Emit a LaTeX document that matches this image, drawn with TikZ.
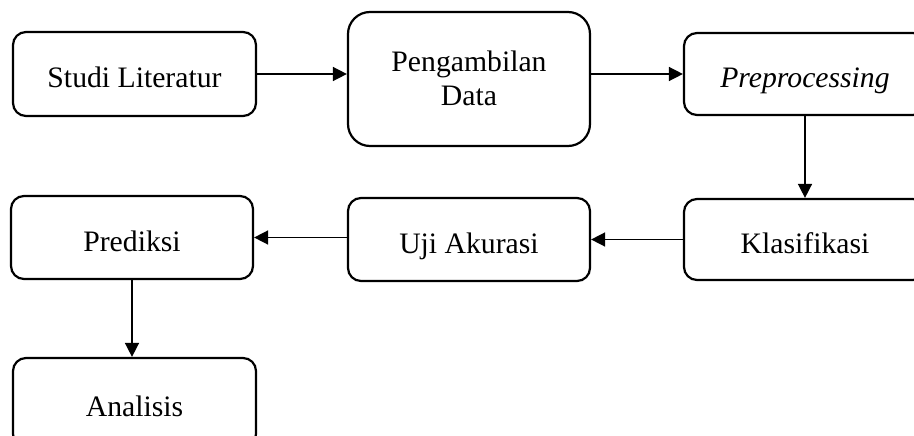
\documentclass[tikz,border=0pt]{standalone}
\usepackage{fontspec}
\setmainfont{Liberation Serif}
\usetikzlibrary{arrows.meta}
\begin{document}
\begin{tikzpicture}[x=1pt,y=-1pt,
  box/.style={draw=black, line width=2.2pt, rounded corners=13pt, minimum width=242pt,
    minimum height=83pt, inner sep=0pt, text height=27pt, text depth=0pt,
    font=\fontsize{29.7}{34}\selectfont},
  arr/.style={line width=1.5pt, -{Triangle[length=14pt,width=14pt]}}]
\useasboundingbox (0,0) rectangle (914,436);
\clip (0,0) rectangle (914,436);
\node[box, minimum width=243pt, minimum height=84pt] (b1) at (134.5,74) {Studi Literatur};
\node[box, minimum height=134pt, rounded corners=22pt, align=center, text height=, text depth=] (b2) at (469,79) {\raisebox{2.5pt}{Pengambilan}\\\raisebox{2.5pt}{Data}};
\node[box, minimum height=82pt] (b3) at (805,74) {\itshape Preprocessing};
\node[box, minimum height=81pt] (b4) at (805,239.5) {Klasifikasi};
\node[box] (b5) at (469,239.5) {Uji Akurasi};
\node[box] (b6) at (132,237.5) {Prediksi};
\node[box, minimum width=243pt, minimum height=89pt] (b7) at (134.5,402.5) {Analisis};
\draw[arr] (b1.east) -- (b1.east -| b2.west);
\draw[arr] (b2.east |- b3.west) -- (b3.west);
\draw[arr] (b3.south) -- (b4.north);
\draw[arr] (b4.west) -- (b4.west -| b5.east);
\draw[arr] (b5.west |- b6.east) -- (b6.east);
\draw[arr] (b6.south) -- (b6.south |- b7.north);
\end{tikzpicture}
\end{document}
